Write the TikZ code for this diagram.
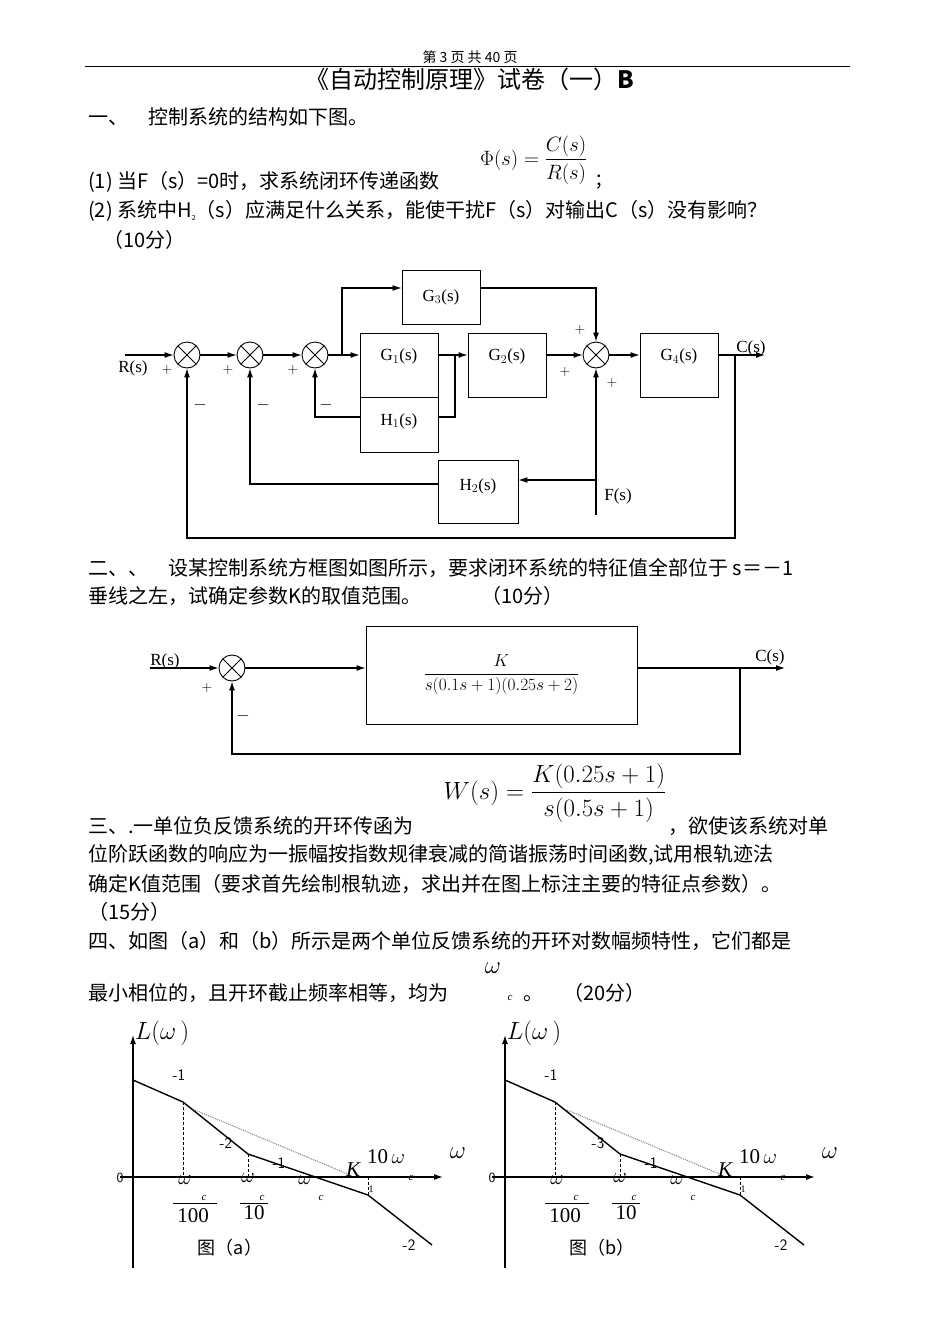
\documentclass[tikz,border=0pt]{standalone}
\usepackage{amsmath}
\usepackage{fontspec}
\setmainfont{Liberation Serif}
\newfontfamily\cjk{Noto Sans CJK SC}
\usetikzlibrary{arrows.meta}
\begin{document}
\begin{tikzpicture}[x=1pt,y=-1pt,
 tx/.style={anchor=west,inner sep=0pt,font=\cjk\fontsize{20}{24}\selectfont},
 lb/.style={inner sep=0pt,font=\fontsize{17}{19}\selectfont},
 blk/.style={draw,line width=0.9pt,inner sep=0pt,font=\fontsize{17}{19}\selectfont},
 sumn/.style={draw,circle,line width=0.9pt,minimum size=26pt,inner sep=0pt,path picture={\draw[line width=0.9pt] (path picture bounding box.south west)--(path picture bounding box.north east) (path picture bounding box.north west)--(path picture bounding box.south east);}},
 sig/.style={line width=1.1pt},
 ar/.style={sig,-{Latex[length=9pt,width=6pt]}},
 crv/.style={line width=1.4pt},
 sm/.style={inner sep=0pt,font=\fontsize{11}{12}\selectfont\itshape}]
\useasboundingbox (0,0) rectangle (950,1343);
% header
\node[inner sep=0pt,font=\cjk\fontsize{14}{16}\selectfont] (hd) at (470,57) {第 3 页 共 40 页};
\draw[line width=0.8pt] (85,66) -- (850,66);
\node[inner sep=0pt,font=\cjk\fontsize{24}{28}\selectfont] (title) at (470,79) {《自动控制原理》试卷（一）\textbf{B}};
\node[tx] (t1) at (88,117) {一、\quad 控制系统的结构如下图。};
\node[anchor=west,inner sep=0pt,font=\fontsize{21}{24}\selectfont] (phi) at (480,160) {$\Phi(s)=\dfrac{C(s)}{R(s)}$};
\node[tx] (t2) at (88,182) {(1) 当F（s）=0时，求系统闭环传递函数};
\node[tx] (t2b) at (596,182) {;};
\node[tx] (t3) at (88,211) {(2) 系统中H\raisebox{-3pt}{\scriptsize 2}（s）应满足什么关系，能使干扰F（s）对输出C（s）没有影响？};
\node[tx] (t4) at (103,240) {（10分）};
% diagram 1
\node[sumn] (s1) at (187,355) {};
\node[sumn] (s2) at (250,355) {};
\node[sumn] (s3) at (315,355) {};
\node[sumn] (s4) at (596,355) {};
\node[blk,minimum width=78pt,minimum height=54pt] (G3) at (441,297) {G$_3$(s)};
\node[blk,minimum width=78pt,minimum height=64pt,text depth=20pt] (G1) at (399,365) {G$_1$(s)};
\node[blk,minimum width=78pt,minimum height=55pt,text depth=10pt] (H1) at (399,424.5) {H$_1$(s)};
\node[blk,minimum width=78pt,minimum height=64pt,text depth=20pt] (G2) at (507,365) {G$_2$(s)};
\node[blk,minimum width=78pt,minimum height=64pt,text depth=20pt] (G4) at (679,365) {G$_4$(s)};
\node[blk,minimum width=80pt,minimum height=63pt,text depth=14pt] (H2) at (478,491.5) {H$_2$(s)};
\coordinate (rin) at (125,355);
\coordinate (cout) at (765,355);
\coordinate (fin) at (596,515);
\draw[ar] (rin) -- (s1);
\draw[ar] (s1) -- (s2);
\draw[ar] (s2) -- (s3);
\draw[ar] (s3) -- (G1.west|-s3);
\draw[ar] (G1.east|-s3) -- (G2.west|-s3);
\draw[ar] (G2.east|-s3) -- (s4);
\draw[ar] (s4) -- (G4.west|-s4);
\draw[ar] (G4.east|-s4) -- (cout);
\draw[ar] (342,355) |- (G3.west|-0,288);
\draw[ar] (G3.east|-0,288) -| (s4);
\draw[sig] (455,355) |- (H1.east|-0,417);
\draw[ar] (H1.west|-0,417) -| (s3);
\draw[ar] (fin) -- (s4);
\draw[ar] (596,480) -- (H2.east|-0,480);
\draw[ar] (H2.west|-0,484) -| (s2);
\draw[ar] (735,355) |- (187,538) -- (s1);
\node[lb] (rs) at (133,368) {R(s)};
\node[lb] (cs) at (751,348) {C(s)};
\node[lb] (fs) at (618,496) {F(s)};
\foreach \x/\y [count=\i] in {167/370,228/370,293/370,580/330,565/372,612/383}
 \node[lb,font=\sffamily\fontsize{14}{16}\selectfont] (p\i) at (\x,\y) {+};
\foreach \x [count=\i] in {200,263,326}
 \node[lb] (m\i) at (\x,405) {$-$};
% section 2
\node[tx] (u1) at (88,568) {二、、\quad 设某控制系统方框图如图所示，要求闭环系统的特征值全部位于 s＝－1};
\node[tx] (u2) at (88,596) {垂线之左，试确定参数K的取值范围。\qquad\quad（10分）};
\node[sumn] (q1) at (232,668) {};
\node[blk,minimum width=271pt,minimum height=98pt,font=\fontsize{19}{22}\selectfont] (B) at (501.5,675) {$\dfrac{K}{s(0.1s+1)(0.25s+2)}$};
\coordinate (rin2) at (150,668);
\coordinate (cout2) at (785,668);
\draw[ar] (rin2) -- (q1);
\draw[ar] (q1) -- (B.west|-q1);
\draw[ar] (B.east|-q1) -- (cout2);
\draw[ar] (740,668) |- (232,754) -- (q1);
\node[lb] (r2) at (165,661) {R(s)};
\node[lb] (c2) at (770,657) {C(s)};
\node[lb,font=\sffamily\fontsize{14}{16}\selectfont] (pp) at (207,688) {+};
\node[lb] (mm) at (243,716) {$-$};
% section 3
\node[inner sep=0pt,font=\fontsize{23}{26}\selectfont] (W) at (555,793) {$W(s)=\dfrac{K(0.25s+1)}{s(0.5s+1)}$};
\node[tx] (v1) at (88,826) {三、.一单位负反馈系统的开环传函为};
\node[tx] (v1b) at (668,826) {，欲使该系统对单};
\node[tx] (v2) at (88,855) {位阶跃函数的响应为一振幅按指数规律衰减的简谐振荡时间函数,试用根轨迹法};
\node[tx] (v3) at (88,884) {确定\textit{K}值范围（要求首先绘制根轨迹，求出并在图上标注主要的特征点参数）。};
\node[tx] (v4) at (88,912) {（15分）};
\node[tx] (w1) at (88,941) {四、如图（a）和（b）所示是两个单位反馈系统的开环对数幅频特性，它们都是};
\node[inner sep=0pt,font=\fontsize{24}{26}\selectfont] (wo) at (493,968) {$\omega$};
\node[tx] (w2) at (88,993) {最小相位的，且开环截止频率相等，均为};
\node[sm] (wc) at (510,998) {c};
\node[tx] (w3) at (523,993) {。\quad （20分）};
% graphs
\foreach \dx/\sl/\nm in {0/-2/a,372/-3/b}{
\begin{scope}[xshift=\dx pt]
\coordinate (ya\nm) at (133,1268);
\coordinate (yb\nm) at (133,1035);
\coordinate (xa\nm) at (120,1177);
\coordinate (xb\nm) at (443,1177);
\draw[ar,line width=1.3pt] (ya\nm) -- (yb\nm);
\draw[ar,line width=1.3pt] (xa\nm) -- (xb\nm);
\draw[crv] (133,1080) -- (183,1102) -- (248,1154) -- (368,1195) -- (432,1245);
\draw[gray,densely dotted,line width=1pt] (195,1110) -- (350,1175);
\draw[densely dashed,line width=0.5pt] (183,1102) -- (183,1177) (248,1154) -- (248,1177) (368,1177) -- (368,1195);
\node[lb,font=\fontsize{24}{26}\selectfont] (L\nm) at (162,1033) {$L(\omega\,)$};
\node[lb,font=\sffamily\fontsize{14}{15}\selectfont] (z\nm) at (120,1178) {0};
\node[lb,font=\sffamily\fontsize{16}{18}\selectfont] (k1\nm) at (179,1075) {-1};
\node[lb,font=\sffamily\fontsize{16}{18}\selectfont] (k2\nm) at (226,1143) {\sl};
\node[lb,font=\sffamily\fontsize{16}{18}\selectfont] (k3\nm) at (279,1163) {-1};
\node[lb,font=\sffamily\fontsize{16}{18}\selectfont] (k4\nm) at (409,1245) {-2};
\node[lb,font=\fontsize{21}{23}\selectfont\itshape] (K\nm) at (353,1170) {K};
\node[lb,font=\fontsize{21}{23}\selectfont] (tw\nm) at (386,1157) {10$\,\omega$};
\node[sm] (tc\nm) at (411,1178) {c};
\node[sm,font=\fontsize{10}{11}\selectfont] (one\nm) at (371,1189) {1};
\node[lb,font=\fontsize{24}{26}\selectfont] (om\nm) at (458,1153) {$\omega$};
\node[lb,font=\fontsize{21}{23}\selectfont] (o1\nm) at (185,1180) {$\omega$};
\node[sm] (c1\nm) at (204,1198) {c};
\draw[line width=0.8pt] (173,1203) -- (217,1203);
\node[lb,font=\fontsize{21}{23}\selectfont] (h\nm) at (193,1216) {100};
\node[lb,font=\fontsize{21}{23}\selectfont] (o2\nm) at (248,1178) {$\omega$};
\node[sm] (c2\nm) at (262,1198) {c};
\draw[line width=0.8pt] (240,1203) -- (268,1203);
\node[lb,font=\fontsize{21}{23}\selectfont] (te\nm) at (254,1213) {10};
\node[lb,font=\fontsize{21}{23}\selectfont] (o3\nm) at (305,1180) {$\omega$};
\node[sm] (c3\nm) at (321,1198) {c};
\node[lb,font=\cjk\fontsize{18}{20}\selectfont] (cap\nm) at (230,1248) {图（\nm）};
\end{scope}}
\end{tikzpicture}
\end{document}
